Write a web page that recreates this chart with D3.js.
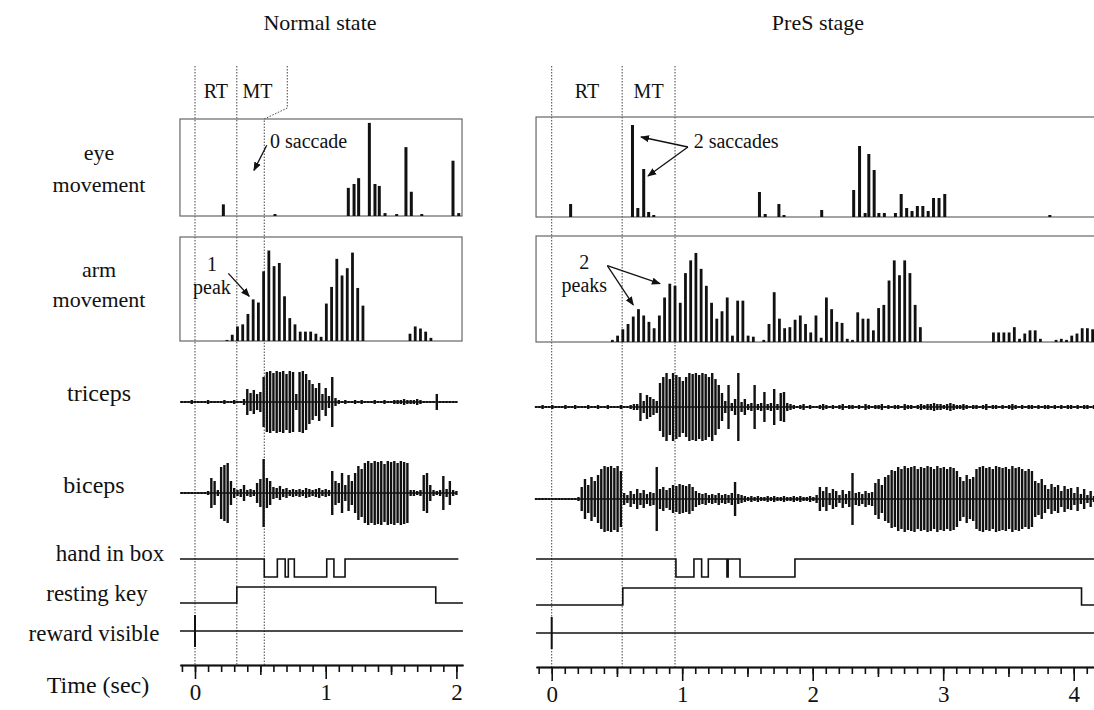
<!DOCTYPE html>
<html>
<head>
<meta charset="utf-8">
<script src="https://cdn.jsdelivr.net/npm/d3@7"></script>
<style>
  body { margin: 0; background: #fff; }
  text { font-family: "Liberation Serif", "Times New Roman", serif; fill: #111; }
</style>
</head>
<body>
<svg id="fig"></svg>
<script>
// ---------- data ----------
const panelTitles = ['Normal state', 'PreS stage'];
const rowLabels = [['eye', 'movement'], ['arm', 'movement'], ['triceps'], ['biceps'],
                   ['hand in box'], ['resting key'], ['reward visible'], ['Time (sec)']];
const tickLabelsNormal = [0, 1, 2];
const tickLabelsPreS = [0, 1, 2, 3, 4];

// cue onset, end of RT, end of MT (s)
const epochsNormal = [0, 0.32, 0.53];
const epochsPreS = [0, 0.54, 0.945];

// eye movement histogram: bar time (s), height (% of box)
const eyeNormalT = [0.217, 0.612, 1.173, 1.217, 1.252, 1.334, 1.377, 1.41, 1.454, 1.543, 1.614, 1.655, 1.735, 1.974, 2.018];
const eyeNormalV = [12, 2, 29, 33, 39, 96, 33, 31, 3, 2, 71, 25, 2, 57, 3];
const eyePreST = [0.145, 0.619, 0.66, 0.705, 0.743, 0.782, 1.592, 1.636, 1.741, 1.78, 2.069, 2.314, 2.359, 2.402, 2.43,
                  2.471, 2.507, 2.549, 2.634, 2.678, 2.72, 2.761, 2.802, 2.844, 2.885, 2.926, 2.968, 3.012, 3.817];
const eyePreSV = [13, 92, 9, 48, 5, 2, 25, 3, 13, 2, 7, 27, 71, 4, 63, 47, 4, 4, 4, 23, 9, 6, 11, 11, 6, 19, 19, 23, 2];

// arm movement histogram, 40 ms bins (% of box)
const armNormalStart = 0.245;
const armNormal = [1, 6, 14, 16, 26, 40, 37, 67, 87, 72, 75, 43, 22, 16, 9, 9, 9, 7, 4, 36,
                   52, 79, 63, 70, 85, 51, 34, 0, 0, 0, 0, 0, 0, 0, 0, 7, 14, 12, 9, 3];
const armPreSStart = 0.465;
const armPreS = [2, 6, 12, 17, 24, 31, 25, 19, 13, 25, 42, 55, 53, 37, 65, 77, 84, 69, 53, 37,
                 22, 29, 42, 6, 39, 39, 6, 5, 0, 2, 17, 47, 22, 13, 14, 21, 25, 17, 9, 25,
                 4, 42, 31, 19, 18, 3, 2, 28, 22, 22, 11, 32, 35, 58, 77, 63, 77, 65, 35, 14,
                 0, 0, 0, 0, 0, 0, 0, 0, 0, 0, 0, 0, 0, 9, 9, 9, 9, 14, 3, 8,
                 11, 11, 3, 0, 0, 2, 3, 2, 6, 8, 13, 13, 12];

// rectified EMG envelope, 25 ms steps
const emgNormalStart = -0.1;
const tricepsNormal = [1, 1, 1, 2, 1, 1, 1, 1, 2, 1, 1, 1, 1, 2, 1, 1, 2, 1,
  1, 3, 13, 9, 12, 8, 10,
  25, 30, 31, 29, 31, 30, 31, 28, 31, 30,
  8, 30, 31, 28,
  22, 18, 14, 19, 8, 14, 6, 25, 4,
  2, 1, 2, 1, 1, 2, 1, 2, 1, 1, 1, 2, 1, 1, 2, 1, 1, 2, 2, 2,
  3, 2, 2, 2, 3, 2, 1, 1, 1, 1, 8, 1, 1, 1, 1, 1, 1];
const bicepsNormal = [1, 1, 1, 1, 1, 1, 1, 1, 2,
  15, 12, 3, 26, 28, 30, 12, 5, 3, 4, 8, 3,
  4, 3, 10, 14, 34, 15, 12, 6, 5, 7, 4, 5, 3, 4, 3, 4, 3, 5, 4, 3, 4, 5, 3, 4, 3,
  22, 12, 10, 20, 8, 18, 12, 20, 27, 24, 30,
  32, 30, 32, 31, 32, 29, 32, 31, 32, 30, 32, 31, 30,
  3, 3, 2, 3, 18, 20, 8, 3, 2, 3, 17, 4, 12, 3, 2];
const emgPreSStart = -0.12;
const tricepsPreS = [1, 1, 2, 1, 1, 2, 1, 1, 1, 2, 1, 1, 2, 1, 1, 1, 2, 1, 1, 2, 1, 1, 2, 1, 1, 1, 2, 1, 1, 2, 3,
  3, 14, 6, 12, 10, 8, 6, 24, 30, 34, 28, 34, 32, 30, 26, 30, 34, 33, 34, 32, 34, 33, 30, 34, 28,
  22, 14, 6, 22, 4, 8, 34, 5, 8, 3, 4, 22, 3, 4, 15, 3, 4, 18, 3, 14, 15, 4, 3,
  2, 1, 2, 3, 1, 2, 1, 1, 2, 3, 2, 1, 2, 1, 2, 3, 1, 2, 2, 1,
  2, 1, 3, 2, 1, 2, 2, 3, 1, 2, 1, 2, 2, 1, 3, 2, 2, 1, 2, 3,
  2, 3, 3, 4, 3, 3, 2, 3, 4, 3, 2, 2, 3, 2, 1, 2, 2, 1, 2, 3,
  1, 2, 2, 1, 2, 1, 2, 3, 2, 1, 2, 1, 2, 2, 1, 2, 1, 2, 2, 1,
  2, 1, 2, 1, 2, 2, 1, 2, 1, 2, 2, 1, 2];
const bicepsPreS = [1, 1, 1, 1, 1, 1, 1, 1, 1, 1, 1, 1, 1, 2,
  12, 20, 14, 22, 18, 24, 30, 33, 32, 33, 31, 33, 28,
  6, 4, 8, 5, 10, 6, 9, 5, 7, 6,
  32,
  10, 12, 9, 11, 14, 13, 15, 14, 13, 15, 12,
  8, 6, 5, 6, 4, 5, 4, 6, 4, 5, 4, 6, 17, 5, 4, 3,
  2, 3, 2, 3, 2, 2, 3, 2, 3, 2, 2, 3, 2, 2, 3, 2, 3, 2, 2, 3, 2,
  4, 12, 8, 12, 6, 10, 8, 4, 9, 5, 8, 26, 6, 7, 5, 8, 6, 7,
  16, 20, 14, 22, 24, 29, 28,
  32, 30, 33, 31, 32, 33, 30, 32, 31, 33, 32, 30, 33, 31, 32, 30, 32, 31, 28,
  22, 18, 24, 20, 22,
  30, 32, 33, 31, 32, 30, 33, 32, 31, 32, 30, 33, 31, 32, 30, 28, 30,
  28, 18, 16, 20, 14, 10, 15, 12, 14, 8, 13, 10, 11, 6, 12, 5, 10, 4, 8, 3];

// digital channels: [time (s), state]
const handNormal = [[-0.115, 1], [0.53, 0], [0.63, 1], [0.69, 0], [0.714, 1], [0.76, 0], [1.008, 1], [1.063, 0], [1.148, 1], [2.015, 1]];
const restNormal = [[-0.115, 0], [0.32, 1], [1.842, 0], [2.05, 0]];
const rewardNormal = [[-0.115, 0], [2.05, 0]];
const handPreS = [[-0.12, 1], [0.952, 0], [1.09, 1], [1.149, 0], [1.2, 1], [1.343, 0], [1.352, 1], [1.443, 0], [1.864, 1], [4.4, 1]];
const restPreS = [[-0.12, 0], [0.545, 1], [4.06, 0], [4.4, 0]];
const rewardPreS = [[-0.12, 0], [4.4, 0]];

// annotations: text lines, arrow tail and heads in (time, % of box)
const annNormal = [
  {box: 'eye', lines: ['0 saccade'], t: 0.574, v: 70, anchor: 'start', tail: [0.549, 73], heads: [[0.451, 47]]},
  {box: 'arm', lines: ['1', 'peak'], t: 0.13, v: 67, anchor: 'middle', tail: [0.255, 65], heads: [[0.415, 43]]}
];
const annPreS = [
  {box: 'eye', lines: ['2 saccades'], t: 1.088, v: 69, anchor: 'start', tail: [1.044, 70], heads: [[0.684, 80], [0.738, 41]]},
  {box: 'arm', lines: ['2', 'peaks'], t: 0.25, v: 69, anchor: 'middle', tail: [0.426, 72], heads: [[0.83, 55], [0.625, 35]]}
];

// ---------- layout ----------
const W = 1094, H = 710;
const svg = d3.select('#fig').attr('width', W).attr('height', H);

svg.append('defs').append('marker')
    .attr('id', 'arr')
    .attr('viewBox', '0 0 10 10')
    .attr('refX', 9).attr('refY', 5)
    .attr('markerWidth', 9).attr('markerHeight', 9)
    .attr('markerUnits', 'userSpaceOnUse')
    .attr('orient', 'auto')
  .append('path')
    .attr('d', 'M0,1 L10,5 L0,9 Z')
    .attr('fill', '#111');

const panels = [
  {title: panelTitles[0], titleX: 320, x0: 195, pps: 130.7, tMin: -0.115, tMax: 2.05, boxEnd: 2.043,
   eye: [119, 216], arm: [237, 341], tri: 402, bic: 493, hand: [559, 577], rest: [587, 603], reward: 631, axis: 665,
   kink: 23, ticks: tickLabelsNormal, epochs: epochsNormal,
   eyeT: eyeNormalT, eyeV: eyeNormalV, arm0: armNormalStart, armV: armNormal,
   emg0: emgNormalStart, triV: tricepsNormal, bicV: bicepsNormal,
   handD: handNormal, restD: restNormal, rewardD: rewardNormal, ann: annNormal},
  {title: panelTitles[1], titleX: 818, x0: 551.7, pps: 130.5, tMin: -0.12, tMax: 4.4, boxEnd: 4.6,
   eye: [117, 217], arm: [236, 342], tri: 407, bic: 499, hand: [559, 577], rest: [588, 605], reward: 633, axis: 667,
   kink: 0, ticks: tickLabelsPreS, epochs: epochsPreS,
   eyeT: eyePreST, eyeV: eyePreSV, arm0: armPreSStart, armV: armPreS,
   emg0: emgPreSStart, triV: tricepsPreS, bicV: bicepsPreS,
   handD: handPreS, restD: restPreS, rewardD: rewardPreS, ann: annPreS}
];

// row labels on the left
const labelPos = [
  {x: 99, y: [160, 192], size: 22}, {x: 99, y: [277, 307], size: 22},
  {x: 99, y: [401], size: 24}, {x: 94, y: [493], size: 24},
  {x: 110, y: [561], size: 23}, {x: 97, y: [601], size: 23},
  {x: 94, y: [641], size: 23}, {x: 98, y: [693], size: 24}
];
rowLabels.forEach((lines, k) => {
  lines.forEach((s, j) => {
    svg.append('text')
        .attr('x', labelPos[k].x).attr('y', labelPos[k].y[j])
        .attr('text-anchor', 'middle')
        .attr('font-size', labelPos[k].size)
        .text(s);
  });
});

panels.forEach(p => {
  const x = d3.scaleLinear().domain([0, 1]).range([p.x0, p.x0 + p.pps]);
  const g = svg.append('g');

  // title
  g.append('text')
      .attr('x', p.titleX).attr('y', 30)
      .attr('text-anchor', 'middle')
      .attr('font-size', 22)
      .text(p.title);

  // epoch lines (dotted)
  const [e0, e1, e2] = p.epochs;
  const dotted = d3.line();
  const epochPaths = [
    [[x(e0), 66], [x(e0), p.axis]],
    [[x(e1), 66], [x(e1), p.axis]],
    [[x(e2) + p.kink, 66], [x(e2) + p.kink, p.eye[0] - 11], [x(e2), p.eye[0]], [x(e2), p.axis]]
  ];
  g.selectAll('.epoch').data(epochPaths).join('path')
      .attr('class', 'epoch')
      .attr('d', dotted)
      .attr('fill', 'none')
      .attr('stroke', '#444')
      .attr('stroke-width', 1)
      .attr('stroke-dasharray', '1.5,1.5');

  g.append('text')
      .attr('x', (x(e0) + x(e1)) / 2).attr('y', 98)
      .attr('text-anchor', 'middle').attr('font-size', 20).text('RT');
  g.append('text')
      .attr('x', (x(e1) + x(e2) + p.kink * 0.6) / 2).attr('y', 98)
      .attr('text-anchor', 'middle').attr('font-size', 20).text('MT');

  // boxes
  const boxes = {eye: p.eye, arm: p.arm};
  Object.values(boxes).forEach(b => {
    g.append('rect')
        .attr('x', x(p.tMin)).attr('y', b[0])
        .attr('width', x(p.boxEnd) - x(p.tMin)).attr('height', b[1] - b[0])
        .attr('fill', 'none')
        .attr('stroke', '#666')
        .attr('stroke-width', 1.2);
  });

  // eye histogram
  const yEye = d3.scaleLinear().domain([0, 100]).range([p.eye[1], p.eye[0]]);
  g.selectAll('.eyebar').data(p.eyeT).join('rect')
      .attr('class', 'eyebar')
      .attr('x', t => x(t) - 1.5)
      .attr('width', 3)
      .attr('y', (t, i) => yEye(p.eyeV[i]))
      .attr('height', (t, i) => yEye(0) - yEye(p.eyeV[i]))
      .attr('fill', '#111');

  // arm histogram
  const yArm = d3.scaleLinear().domain([0, 100]).range([p.arm[1], p.arm[0]]);
  const armBins = p.armV.map((v, i) => ({t: p.arm0 + i * 0.04, v})).filter(d => d.v > 0);
  g.selectAll('.armbar').data(armBins).join('rect')
      .attr('class', 'armbar')
      .attr('x', d => x(d.t) - 1.4)
      .attr('width', 2.8)
      .attr('y', d => yArm(d.v))
      .attr('height', d => yArm(0) - yArm(d.v))
      .attr('fill', '#111');

  // annotations
  p.ann.forEach(a => {
    const yb = a.box === 'eye' ? yEye : yArm;
    a.lines.forEach((s, j) => {
      g.append('text')
          .attr('x', x(a.t)).attr('y', yb(a.v) + j * 23)
          .attr('text-anchor', a.anchor)
          .attr('font-size', 20)
          .text(s);
    });
    a.heads.forEach(h => {
      g.append('line')
          .attr('x1', x(a.tail[0])).attr('y1', yb(a.tail[1]))
          .attr('x2', x(h[0])).attr('y2', yb(h[1]))
          .attr('stroke', '#111').attr('stroke-width', 1.3)
          .attr('marker-end', 'url(#arr)');
    });
  });

  // EMG traces
  [[p.triV, p.tri], [p.bicV, p.bic]].forEach(([vals, base]) => {
    const yE = d3.scaleLinear().domain([-40, 40]).range([base + 40, base - 40]);
    const tEnd = p.emg0 + (vals.length - 1) * 0.025;
    g.append('line')
        .attr('x1', x(p.tMin)).attr('x2', x(tEnd))
        .attr('y1', yE(0)).attr('y2', yE(0))
        .attr('stroke', '#111').attr('stroke-width', 1.3);
    g.selectAll(null).data(vals).join('line')
        .attr('x1', (v, i) => x(p.emg0 + i * 0.025))
        .attr('x2', (v, i) => x(p.emg0 + i * 0.025))
        .attr('y1', v => yE(v))
        .attr('y2', v => yE(-v))
        .attr('stroke', '#111')
        .attr('stroke-width', 2.4);
  });

  // digital channels
  const step = (hi, lo) => d3.line()
      .x(d => x(d[0]))
      .y(d => d[1] ? hi : lo)
      .curve(d3.curveStepAfter);
  g.append('path').attr('d', step(p.hand[0], p.hand[1])(p.handD))
      .attr('fill', 'none').attr('stroke', '#111').attr('stroke-width', 1.6);
  g.append('path').attr('d', step(p.rest[0], p.rest[1])(p.restD))
      .attr('fill', 'none').attr('stroke', '#111').attr('stroke-width', 1.6);
  g.append('path').attr('d', step(p.reward, p.reward)(p.rewardD))
      .attr('fill', 'none').attr('stroke', '#111').attr('stroke-width', 1.6);
  g.append('line')
      .attr('x1', x(0)).attr('x2', x(0))
      .attr('y1', p.reward - 16).attr('y2', p.reward + 16)
      .attr('stroke', '#111').attr('stroke-width', 2);

  // time axis
  const xa = d3.scaleLinear().domain([p.tMin, p.tMax]).range([x(p.tMin), x(p.tMax)]);
  const minor = d3.range(-1, Math.floor(p.tMax * 10) + 1).map(d => d / 10);
  const medium = minor.filter(d => Math.abs(d * 10 % 10) === 5);
  const ax = g.append('g').attr('transform', `translate(0,${p.axis})`);
  ax.append('g').call(d3.axisBottom(xa).tickValues(minor).tickSize(7).tickSizeOuter(0).tickFormat(''));
  ax.append('g').call(d3.axisBottom(xa).tickValues(medium).tickSize(10).tickSizeOuter(0).tickFormat(''));
  ax.append('g').call(d3.axisBottom(xa).tickValues(p.ticks).tickSize(14).tickSizeOuter(0).tickPadding(5).tickFormat(d3.format('d')));
  ax.selectAll('path, line').attr('stroke', '#111').attr('stroke-width', 1.6);
  ax.selectAll('text')
      .attr('font-family', '"Liberation Serif", "Times New Roman", serif')
      .attr('font-size', 23)
      .attr('fill', '#111');
});
</script>
</body>
</html>
